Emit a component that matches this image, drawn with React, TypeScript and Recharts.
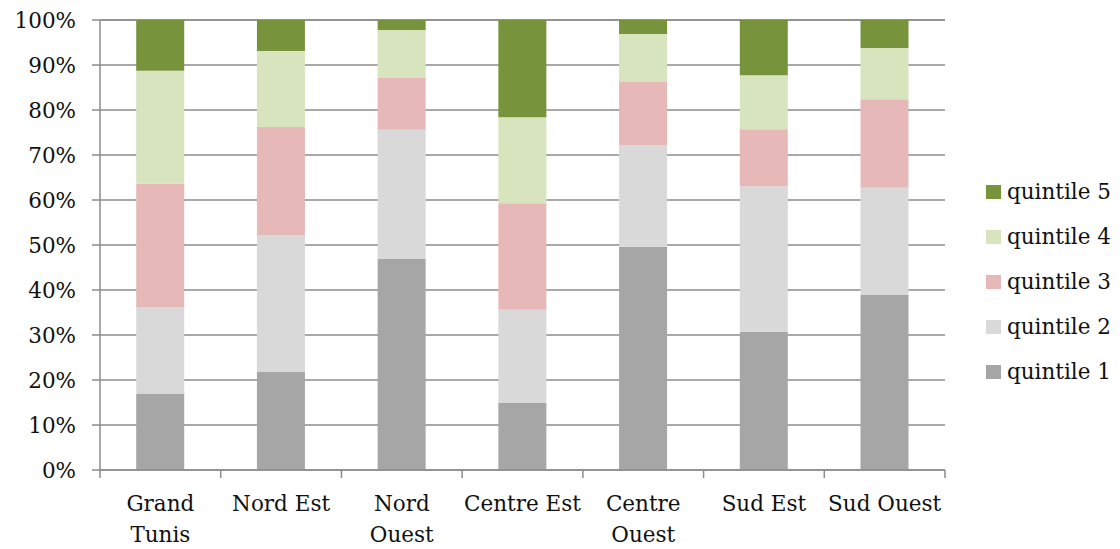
import React from 'react';
import { BarChart, Bar, XAxis, YAxis, CartesianGrid } from 'recharts';

const regions = ['Grand Tunis', 'Nord Est', 'Nord Ouest', 'Centre Est', 'Centre Ouest', 'Sud Est', 'Sud Ouest'];
const quintile1 = [17.0, 21.8, 46.9, 14.9, 49.6, 30.7, 38.9];
const quintile2 = [19.1, 30.4, 28.7, 20.7, 22.5, 32.3, 23.8];
const quintile3 = [27.5, 24.0, 11.5, 23.7, 14.1, 12.7, 19.7];
const quintile4 = [25.1, 16.9, 10.7, 19.1, 10.7, 12.0, 11.4];
const quintile5 = [11.3, 6.9, 2.2, 21.6, 3.1, 12.3, 6.2];
const yTicks = [0, 10, 20, 30, 40, 50, 60, 70, 80, 90, 100];

const labelLines: Record<string, string[]> = {
  'Grand Tunis': ['Grand', 'Tunis'],
  'Nord Ouest': ['Nord', 'Ouest'],
  'Centre Ouest': ['Centre', 'Ouest'],
};

const data = regions.map((region, i) => ({
  region,
  q1: quintile1[i],
  q2: quintile2[i],
  q3: quintile3[i],
  q4: quintile4[i],
  q5: quintile5[i],
}));

// legend order, top to bottom
const series = [
  { key: 'q5', name: 'quintile 5', color: '#77933C' },
  { key: 'q4', name: 'quintile 4', color: '#D7E4BD' },
  { key: 'q3', name: 'quintile 3', color: '#E6B9B8' },
  { key: 'q2', name: 'quintile 2', color: '#D9D9D9' },
  { key: 'q1', name: 'quintile 1', color: '#A6A6A6' },
];

const FONT = '"DejaVu Serif", serif';
const FONT_SIZE = 21.5;
const GRID = '#8C8C8C';
const WIDTH = 1120;
const HEIGHT = 549;
const LEFT = 100;
const RIGHT = 175;
const BAND = (WIDTH - LEFT - RIGHT) / regions.length;

// category labels plus tick marks on the band edges
const CategoryTick = (props: any) => {
  const { x, y, payload, index } = props;
  const lines = labelLines[payload.value] || [payload.value];
  return (
    <g>
      {index === 0 && (
        <line x1={x - BAND / 2} y1={y - 8} x2={x - BAND / 2} y2={y} stroke={GRID} strokeWidth={1.5} />
      )}
      <line x1={x + BAND / 2} y1={y - 8} x2={x + BAND / 2} y2={y} stroke={GRID} strokeWidth={1.5} />
      {lines.map((line, i) => (
        <text key={i} x={x} y={y + 33 + i * 31} textAnchor="middle" fontFamily={FONT} fontSize={FONT_SIZE} fill="#111">
          {line}
        </text>
      ))}
    </g>
  );
};

export default function App() {
  return (
    <div style={{ position: 'absolute', left: 0, top: 0, width: WIDTH, height: HEIGHT, background: '#fff' }}>
      <BarChart
        width={WIDTH}
        height={HEIGHT}
        data={data}
        margin={{ top: 20, right: RIGHT, bottom: 0, left: 0 }}
        barCategoryGap="30%"
      >
        <CartesianGrid vertical={false} stroke={GRID} strokeWidth={1.5} />
        <XAxis
          dataKey="region"
          axisLine={{ stroke: GRID, strokeWidth: 1.5 }}
          tickLine={false}
          tick={<CategoryTick />}
          interval={0}
          height={79}
        />
        <YAxis
          width={LEFT}
          domain={[0, 100]}
          ticks={yTicks}
          interval={0}
          tickFormatter={(v: number) => `${v}%`}
          axisLine={{ stroke: GRID, strokeWidth: 1.5 }}
          tickLine={{ stroke: GRID, strokeWidth: 1.5 }}
          tickSize={8}
          tickMargin={16}
          tick={{ fontFamily: FONT, fontSize: FONT_SIZE, fill: '#111' }}
        />
        <Bar dataKey="q1" name="quintile 1" stackId="a" fill="#A6A6A6" isAnimationActive={false} />
        <Bar dataKey="q2" name="quintile 2" stackId="a" fill="#D9D9D9" isAnimationActive={false} />
        <Bar dataKey="q3" name="quintile 3" stackId="a" fill="#E6B9B8" isAnimationActive={false} />
        <Bar dataKey="q4" name="quintile 4" stackId="a" fill="#D7E4BD" isAnimationActive={false} />
        <Bar dataKey="q5" name="quintile 5" stackId="a" fill="#77933C" isAnimationActive={false} />
      </BarChart>
      <div style={{ position: 'absolute', left: 986, top: 169, fontFamily: FONT, fontSize: FONT_SIZE, color: '#111' }}>
        {series.map((s) => (
          <div key={s.key} style={{ display: 'flex', alignItems: 'center', height: 45 }}>
            <span style={{ width: 15, height: 14, background: s.color, marginRight: 6, display: 'inline-block' }} />
            <span>{s.name}</span>
          </div>
        ))}
      </div>
    </div>
  );
}
